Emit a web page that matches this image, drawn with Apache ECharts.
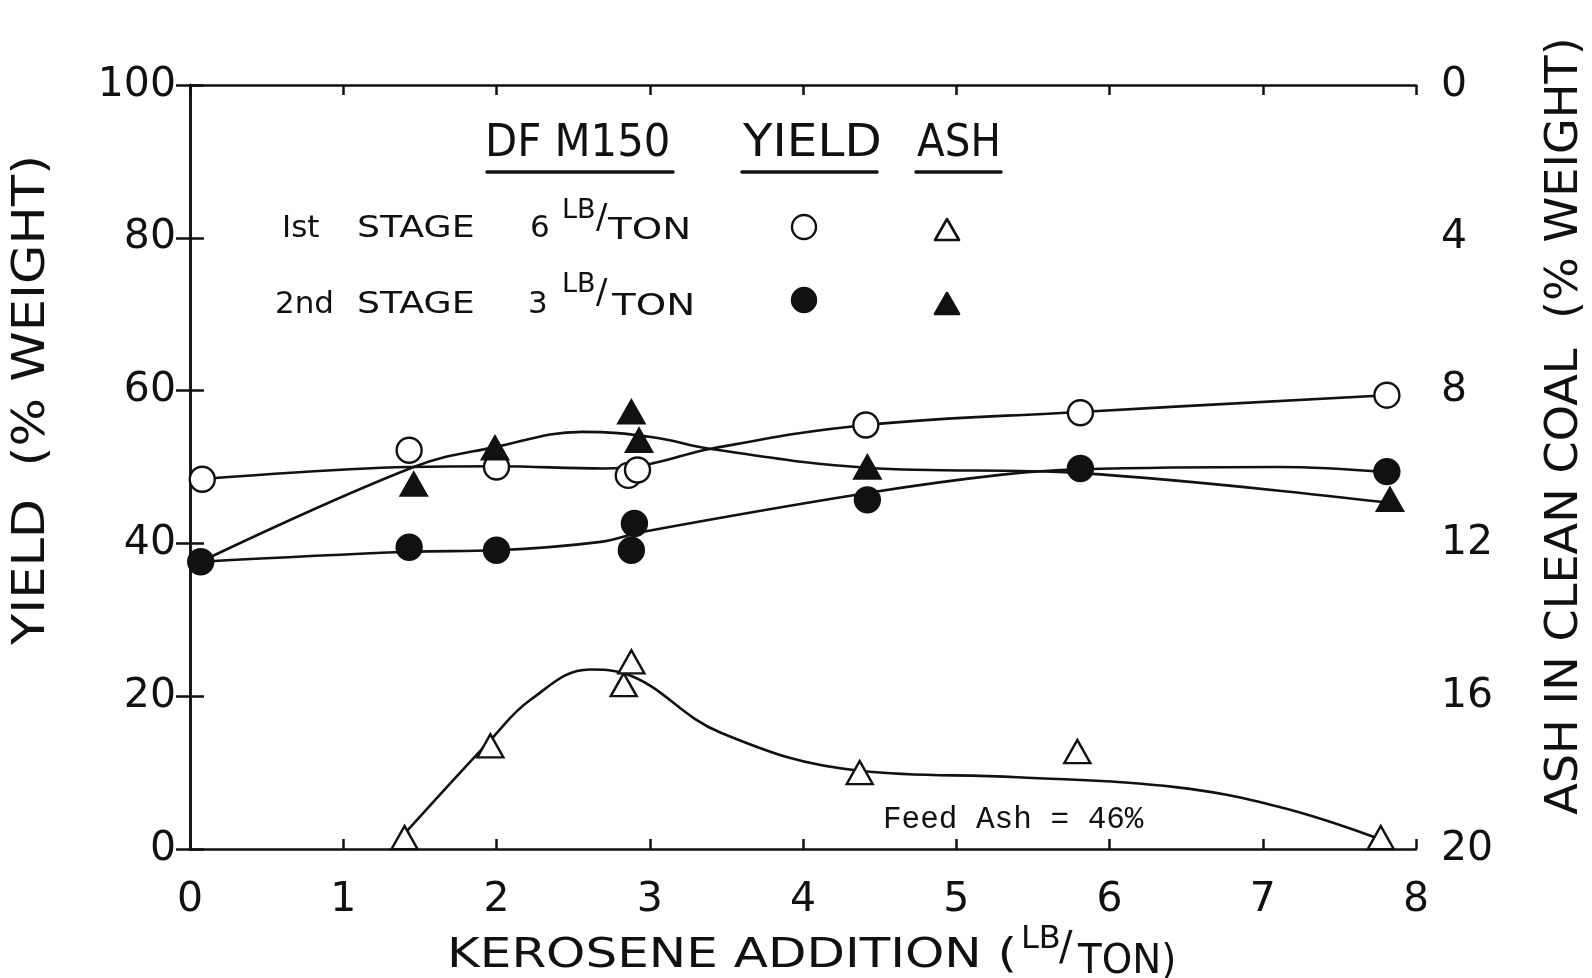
<!DOCTYPE html>
<html>
<head>
<meta charset="utf-8">
<script src="https://cdn.jsdelivr.net/npm/echarts@6/dist/echarts.min.js"></script>
<style>
  html, body { margin: 0; padding: 0; background: #fff; }
  #chart { width: 1592px; height: 978px; }
</style>
</head>
<body>
<div id="chart"></div>
<script>
// Kerosene addition (lb/ton) vs. clean-coal yield and ash, DF M150 frother.

// Yield, 1st stage (6 lb/ton) — [kerosene, yield %]
const yieldStage1 = [[0.08, 48.4], [1.43, 52.2], [2.0, 50.0], [2.86, 48.9], [2.92, 49.6], [4.41, 55.5], [5.81, 57.1], [7.81, 59.4]];
// Yield, 2nd stage (3 lb/ton)
const yieldStage2 = [[0.07, 37.6], [1.43, 39.5], [2.0, 39.1], [2.88, 39.1], [2.9, 42.6], [4.42, 45.7], [5.81, 49.8], [7.81, 49.4]];
// Ash in clean coal, 1st stage — [kerosene, ash %]
const ashStage1 = [[1.40, 19.7], [1.96, 17.3], [2.83, 15.7], [2.88, 15.1], [4.37, 18.0], [5.79, 17.45], [7.77, 19.7]];
// Ash in clean coal, 2nd stage
const ashStage2 = [[1.46, 10.45], [1.99, 9.5], [2.88, 8.56], [2.93, 9.3], [4.42, 10.0], [7.83, 10.85]];

// Hand-fitted trend curves through the data
const fitYield1 = [[0.08, 48.4], [1.43, 50.0], [2.0, 50.1], [2.7, 49.8], [3.0, 50.4], [3.4, 52.4], [4.41, 55.5], [5.81, 57.2], [7.81, 59.4]];
const fitYield2 = [[0.07, 37.6], [1.43, 38.9], [2.0, 39.1], [2.68, 40.2], [2.95, 41.5], [4.42, 46.6], [5.3, 49.0], [5.81, 49.7], [7.1, 50.0], [7.81, 49.3]];
const fitAsh1 = [[1.40, 19.6], [1.96, 17.15], [2.22, 16.1], [2.61, 15.3], [2.83, 15.4], [3.46, 16.95], [4.37, 17.95], [5.4, 18.12], [6.43, 18.38], [7.11, 18.9], [7.73, 19.69]];
const fitAsh2 = [[0.07, 12.48], [1.46, 10.0], [1.99, 9.48], [2.56, 9.08], [3.02, 9.22], [3.39, 9.52], [4.42, 10.02], [5.81, 10.16], [7.83, 10.94]];

// Axis ranges
const xRange = { min: 0, max: 8, interval: 1 };
const yieldRange = { min: 0, max: 100, interval: 20 };
const ashRange = { min: 0, max: 20, interval: 4 };

const FONT = 'DejaVu Sans';
const INK = '#111';

const chart = echarts.init(document.getElementById('chart'), null, { renderer: 'canvas' });

const axisLine = { show: true, lineStyle: { color: INK, width: 2.5 } };
const tickStyle = { color: INK, width: 2.5 };
const labelStyle = { color: INK, fontFamily: FONT, fontSize: 41 };

function fitSeries(data, yIdx) {
  return {
    type: 'line', data, yAxisIndex: yIdx, xAxisIndex: 0,
    smooth: 0.4, symbol: 'none', z: 2, silent: true,
    lineStyle: { color: INK, width: 2.6 }
  };
}
function pointSeries(data, yIdx, symbol, filled) {
  const tri = symbol === 'triangle';
  return {
    type: 'scatter', data, yAxisIndex: yIdx, xAxisIndex: 0,
    symbol, symbolSize: tri ? [26, 23] : 25, z: 5,
    itemStyle: { color: filled ? INK : '#fff', borderColor: INK, borderWidth: 2.4, opacity: 1 }
  };
}

function txt(text, x, y, size, opts = {}) {
  return {
    type: 'text', x, y, rotation: opts.rotation || 0, scaleX: opts.scaleX || 1, z: 10,
    style: {
      text, fill: INK, fontSize: size, fontFamily: opts.font || FONT,
      align: opts.align || 'left', verticalAlign: 'middle'
    }
  };
}
function uline(x1, x2, y) {
  return { type: 'line', z: 10, shape: { x1, y1: y, x2, y2: y }, style: { stroke: INK, lineWidth: 3.5, lineCap: 'round' } };
}
function circ(cx, cy, filled) {
  return { type: 'circle', z: 10, shape: { cx, cy, r: 12 }, style: { fill: filled ? INK : '#fff', stroke: INK, lineWidth: 2.4 } };
}
function tri(cx, cy, filled) {
  return { type: 'polygon', z: 10, shape: { points: [[cx, cy - 11], [cx - 12, cy + 10], [cx + 12, cy + 10]] }, style: { fill: filled ? INK : '#fff', stroke: INK, lineWidth: 2.6, lineJoin: 'round' } };
}

const graphics = [
  // key table headings
  txt('DF M150', 485, 145, 44, { scaleX: 0.95 }),
  txt('YIELD', 743, 145, 44, { scaleX: 1.1 }),
  txt('ASH', 917, 145, 44, { scaleX: 0.92 }),
  uline(487, 673, 172), uline(742, 877, 172), uline(916, 1001, 172),
  // key rows
  txt('Ist', 282, 229, 31), txt('STAGE', 357, 229, 31, { scaleX: 1.17 }),
  txt('6', 530, 229, 31), txt('LB', 562, 211, 27), txt('/', 596, 219, 34), txt('TON', 608, 231, 31, { scaleX: 1.25 }),
  txt('2nd', 275, 305, 31), txt('STAGE', 357, 305, 31, { scaleX: 1.17 }),
  txt('3', 528, 305, 31), txt('LB', 562, 285, 27), txt('/', 596, 294, 34), txt('TON', 612, 307, 31, { scaleX: 1.25 }),
  circ(804, 227, false), tri(947, 230, false),
  circ(804, 300, true), tri(947, 304, true),
  // annotation
  txt('Feed Ash = 46%', 883, 820, 31, { font: 'Liberation Mono' }),
  // axis titles
  txt('KEROSENE ADDITION (', 447, 957, 40, { scaleX: 1.25 }),
  txt('LB', 1021, 940, 32), txt('/', 1059, 950, 40), txt('TON)', 1078, 963, 40, { scaleX: 0.97 }),
  txt('YIELD  (% WEIGHT)', 33, 400, 44, { align: 'center', rotation: Math.PI / 2, scaleX: 1.16 }),
  txt('ASH IN CLEAN COAL  (% WEIGHT)', 1566, 426, 44, { align: 'center', rotation: Math.PI / 2, scaleX: 1.05 })
];

chart.setOption({
  animation: false,
  backgroundColor: '#fff',
  grid: { left: 190, right: 176, top: 85, bottom: 129, containLabel: false },
  xAxis: [
    {
      type: 'value', position: 'bottom', ...xRange,
      axisLine, splitLine: { show: false },
      axisTick: { show: true, inside: true, length: 10, lineStyle: tickStyle },
      axisLabel: { ...labelStyle, margin: 31 }
    },
    {
      type: 'value', position: 'top', ...xRange,
      axisLine, splitLine: { show: false },
      axisTick: { show: true, inside: true, length: 10, lineStyle: tickStyle },
      axisLabel: { show: false }
    }
  ],
  yAxis: [
    {
      type: 'value', position: 'left', ...yieldRange,
      axisLine, splitLine: { show: false },
      axisTick: { show: true, inside: true, length: 14, lineStyle: tickStyle },
      axisLabel: { ...labelStyle, margin: 14 }
    },
    {
      type: 'value', position: 'right', inverse: true, ...ashRange,
      axisLine, splitLine: { show: false },
      axisTick: { show: true, inside: true, length: 14, lineStyle: tickStyle },
      axisLabel: { ...labelStyle, margin: 25 }
    }
  ],
  series: [
    fitSeries(fitYield1, 0),
    fitSeries(fitYield2, 0),
    fitSeries(fitAsh1, 1),
    fitSeries(fitAsh2, 1),
    pointSeries(yieldStage1, 0, 'circle', false),
    pointSeries(yieldStage2, 0, 'circle', true),
    pointSeries(ashStage1, 1, 'triangle', false),
    pointSeries(ashStage2, 1, 'triangle', true)
  ],
  graphic: graphics
});
</script>
</body>
</html>
